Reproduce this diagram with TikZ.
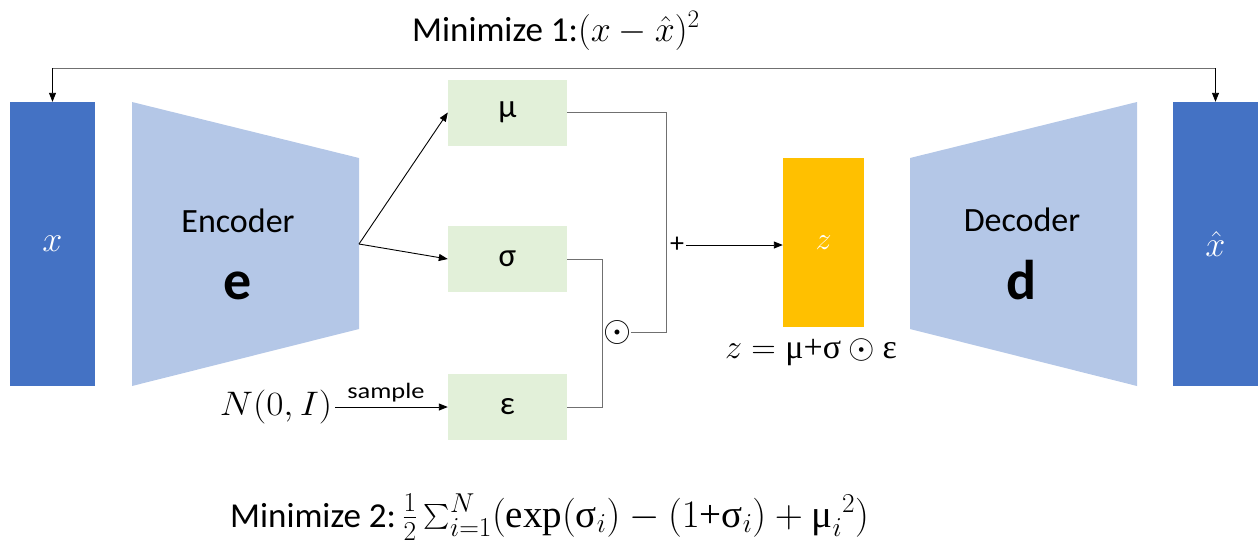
\RequirePackage{fix-cm}
\documentclass[tikz,border=0pt]{standalone}
\usepackage{amsmath}
\usepackage{graphicx}
\usepackage{fontspec}
\setmainfont{Carlito}
\newfontfamily\grserif{Liberation Serif}
\usetikzlibrary{arrows.meta}
\definecolor{xblue}{HTML}{4472C4}
\definecolor{trapblue}{HTML}{B4C7E7}
\definecolor{boxgreen}{HTML}{E2F0D9}
\definecolor{zorange}{HTML}{FFC000}
\definecolor{linegray}{HTML}{707070}
\newcommand{\gs}[1]{\mbox{\grserif #1}}
\newcommand{\wide}[2]{\scalebox{#1}[1]{#2}}
\tikzset{
  bluebar/.style={fill=xblue, minimum width=85pt, minimum height=284pt, inner sep=0pt, text=white, font=\fontsize{36}{40}\selectfont},
  trap/.style={fill=trapblue},
  greenbox/.style={fill=boxgreen, minimum width=119pt, minimum height=66pt, inner sep=0pt, font=\fontsize{33}{38}\selectfont},
  zbox/.style={fill=zorange, minimum width=81pt, minimum height=169pt, inner sep=0pt, text=white, font=\fontsize{32}{36}\selectfont},
  arr/.style={-{Triangle[length=9pt,width=7pt]}, line width=0.9pt, black},
  route/.style={line width=0.9pt, linegray},
  bigtxt/.style={font=\fontsize{34}{40}\selectfont, inner sep=0pt},
  hugetxt/.style={font=\fontsize{56}{60}\selectfont\bfseries, inner sep=0pt},
  lbl/.style={font=\fontsize{30}{36}\selectfont, inner sep=0pt},
}
\begin{document}
\begin{tikzpicture}[x=1pt,y=-1pt]
\useasboundingbox (0,0) rectangle (1259,550);
% input and output bars
\node[bluebar] (x) at (52.5,244) {$x$};
\node[bluebar] (xh) at (1215.5,244) {$\hat{x}$};
% encoder
\fill[trap] (132,102) -- (359,158) -- (359,329) -- (132,386) -- cycle;
\coordinate (apex) at (359,244);
\node[bigtxt] (enc) at (238,221) {Encoder};
\node[hugetxt] (e) at (238,286) {e};
% decoder
\fill[trap] (910,158) -- (1137,102) -- (1137,386) -- (910,329) -- cycle;
\node[bigtxt] (dec) at (1022,220) {Decoder};
\node[hugetxt] (d) at (1022,280) {d};
% latent boxes
\node[greenbox] (mu) at (507.5,112.5) {μ};
\node[greenbox] (sigma) at (507.5,259) {σ};
\node[greenbox] (eps) at (507.5,407) {ε};
\draw[arr] (apex) -- (mu.west);
\draw[arr] (apex) -- (sigma.west);
% noise source
\node[lbl, font=\fontsize{34}{38}\selectfont] (N) at (276,407) {\wide{1.1}{$N(0,I)$}};
\draw[arr] (N.east) ++(3,0) coordinate (Ns) -- (eps.west)
  node[pos=0.45, above=5pt, font=\fontsize{22}{26}\selectfont, inner sep=0pt] (samp) {\wide{1.2}{sample}};
% routing
\node[lbl, font=\fontsize{36}{40}\selectfont] (odot) at (617,332) {$\odot$};
\coordinate (r1) at (666,112.5);
\coordinate (r2) at (666,332);
\draw[route] (mu.east) -- (r1) -- (r2) -- (odot.east);
\coordinate (s1) at (602,259);
\coordinate (s2) at (602,407);
\draw[route] (sigma.east) -- (s1) -- (s2) -- (eps.east);
\node[lbl, font=\fontsize{28}{32}\selectfont] (plus) at (677,245) {+};
% z
\node[zbox] (z) at (823.5,242.5) {$z$};
\coordinate (ps) at ([xshift=2pt]plus.east);
\draw[arr] (ps) -- (ps -| z.west);
\node[lbl, font=\fontsize{34}{38}\selectfont] (zlab) at (811,352) {$z=\gs{μ+σ}\odot\gs{ε}$};
% reconstruction loss
\coordinate (t1) at (52.5,68);
\coordinate (t2) at (1215.5,68);
\draw[route] (t1) -- (t2);
\draw[arr] (t1) -- (x.north);
\draw[arr] (t2) -- (xh.north);
\node[lbl, font=\fontsize{36}{40}\selectfont, anchor=base west] (m1) at (412,41) {{\fontsize{35}{40}\selectfont Minimize 1:}$(x-\hat{x})^2$};
\node[lbl, font=\fontsize{39}{44}\selectfont, anchor=base west] (m2) at (230,527) {{\fontsize{35}{40}\selectfont Minimize 2:}$\,\frac{1}{2}\sum_{i=1}^{N}(\gs{exp}(\gs{σ}_i)-(1\gs{+σ}_i)+\gs{μ}_i{}^2)$};
\end{tikzpicture}
\end{document}
